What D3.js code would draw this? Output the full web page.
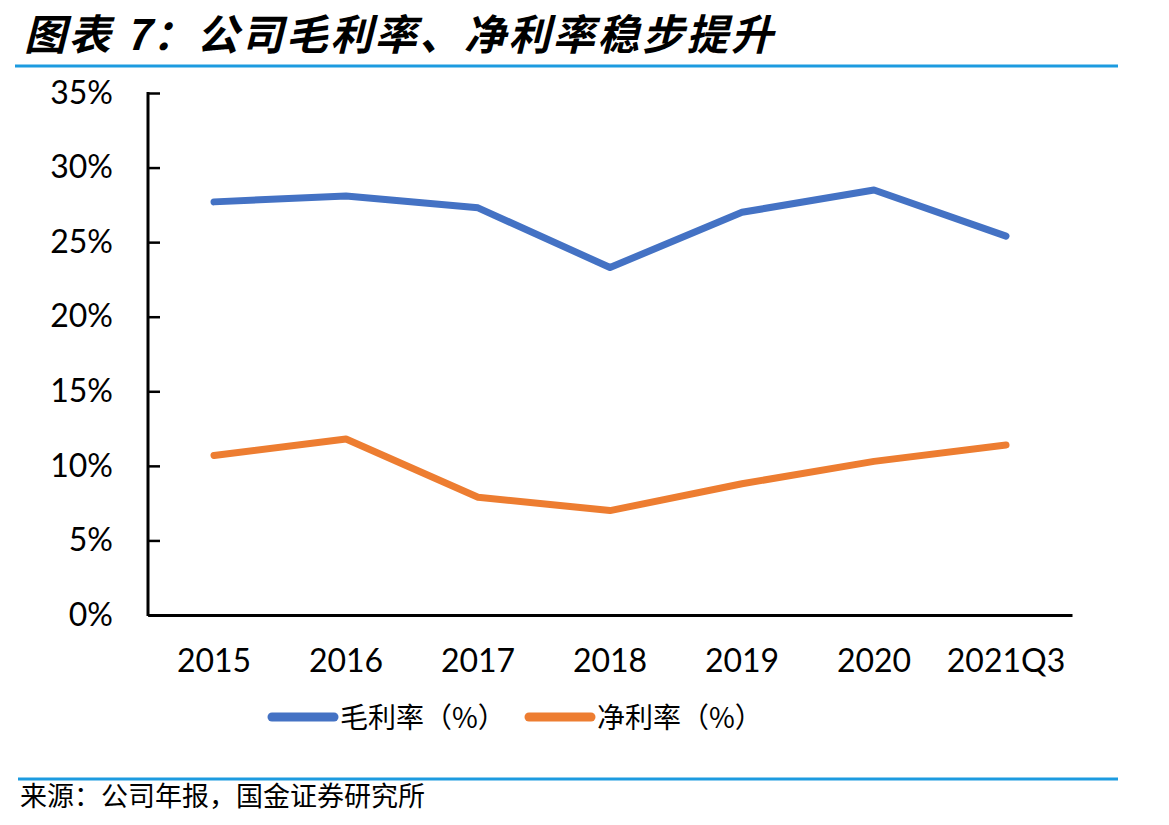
<!DOCTYPE html>
<html>
<head>
<meta charset="utf-8">
<script src="https://cdn.jsdelivr.net/npm/d3@7"></script>
<style>
  body { margin: 0; background: #fff; }
  svg { display: block; }
</style>
</head>
<body>
<svg id="chart"></svg>
<script>
var width = 1169, height = 825;

// data
var years = ["2015", "2016", "2017", "2018", "2019", "2020", "2021Q3"];
var grossMargin = [27.7, 28.1, 27.3, 23.3, 27.0, 28.5, 25.4];
var netMargin = [10.7, 11.8, 7.9, 7.0, 8.8, 10.3, 11.4];
var yTicks = [0, 5, 10, 15, 20, 25, 30, 35];
var seriesNames = ["毛利率（%）", "净利率（%）"];

var cjk = "'Noto Sans CJK SC', sans-serif";
var latin = "Lato, 'Noto Sans', sans-serif";

var svg = d3.select("#chart")
    .attr("width", width)
    .attr("height", height);

// title
svg.append("text")
    .attr("x", 24)
    .attr("y", 50)
    .text("图表 7：公司毛利率、净利率稳步提升")
    .style("font-family", cjk)
    .style("font-size", "42px")
    .style("letter-spacing", "2.5px")
    .style("font-weight", "bold")
    .style("font-style", "italic");

svg.append("line")
    .attr("x1", 15).attr("x2", 1118)
    .attr("y1", 66).attr("y2", 66)
    .attr("stroke", "#1c9be0")
    .attr("stroke-width", 3);

var x = d3.scaleBand()
    .domain(years)
    .range([148, 1072]);

var y = d3.scaleLinear()
    .domain([0, 35])
    .range([615, 93]);

// y axis, ticks pointing inward
var yAxis = svg.append("g")
    .attr("transform", "translate(148,0)")
    .call(d3.axisRight(y).tickValues(yTicks).tickSize(12).tickFormat(function(d) { return d + "%"; }));
yAxis.select(".domain").remove();
yAxis.selectAll("line").attr("stroke", "#000").attr("stroke-width", 2.5);
yAxis.selectAll("text")
    .attr("x", -35)
    .attr("text-anchor", "end")
    .style("font-family", latin)
    .style("font-size", "32px")
    .attr("fill", "#000");

svg.append("line")
    .attr("x1", 148).attr("x2", 148)
    .attr("y1", 92).attr("y2", 616)
    .attr("stroke", "#000").attr("stroke-width", 3);

// x axis
var xAxis = svg.append("g")
    .attr("transform", "translate(0,615)")
    .call(d3.axisBottom(x).tickSize(0).tickPadding(34));
xAxis.select(".domain").attr("stroke", "#000").attr("stroke-width", 3);
xAxis.selectAll("text")
    .style("font-family", latin)
    .style("font-size", "32px")
    .attr("fill", "#000");

var line = d3.line()
    .x(function(d, i) { return x(years[i]) + x.bandwidth() / 2; })
    .y(function(d) { return y(d); });

svg.append("path")
    .datum(grossMargin)
    .attr("d", line)
    .attr("fill", "none")
    .attr("stroke", "#4472c4")
    .attr("stroke-width", 7)
    .attr("stroke-linecap", "round")
    .attr("stroke-linejoin", "round");

svg.append("path")
    .datum(netMargin)
    .attr("d", line)
    .attr("fill", "none")
    .attr("stroke", "#ed7d31")
    .attr("stroke-width", 7)
    .attr("stroke-linecap", "round")
    .attr("stroke-linejoin", "round");

// legend
var legendItems = [
    { name: seriesNames[0], color: "#4472c4", x: 272 },
    { name: seriesNames[1], color: "#ed7d31", x: 529 }
];
var legend = svg.selectAll("g.legend").data(legendItems).enter().append("g")
    .attr("class", "legend");
legend.append("line")
    .attr("x1", function(d) { return d.x; })
    .attr("x2", function(d) { return d.x + 62; })
    .attr("y1", 717).attr("y2", 717)
    .attr("stroke", function(d) { return d.color; })
    .attr("stroke-width", 9)
    .attr("stroke-linecap", "round");
legend.append("text")
    .attr("x", function(d) { return d.x + 68; })
    .attr("y", 728)
    .text(function(d) { return d.name; })
    .style("font-family", cjk)
    .style("font-size", "28px");

// source
svg.append("line")
    .attr("x1", 18).attr("x2", 1118)
    .attr("y1", 779).attr("y2", 779)
    .attr("stroke", "#1c9be0")
    .attr("stroke-width", 3);

svg.append("text")
    .attr("x", 20)
    .attr("y", 806)
    .text("来源：公司年报，国金证券研究所")
    .style("font-family", cjk)
    .style("font-size", "27px");
</script>
</body>
</html>
